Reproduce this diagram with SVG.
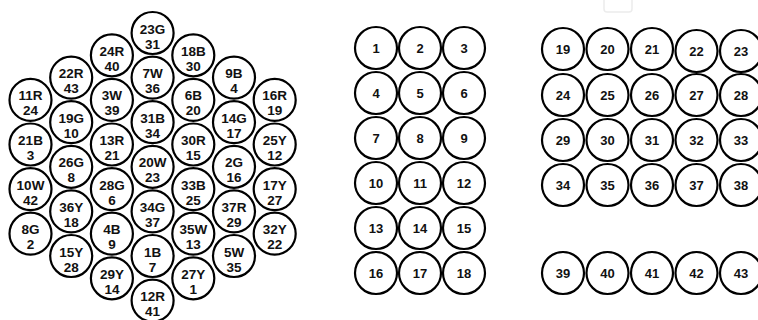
<svg xmlns="http://www.w3.org/2000/svg" width="758" height="320" viewBox="0 0 758 320">
<style>
.c{fill:#fff;stroke:#000;stroke-width:2.2}
.t{font-family:"Liberation Sans",Arial,sans-serif;font-weight:bold;font-size:13.5px;text-anchor:middle;fill:#111}
.n{font-family:"Liberation Sans",Arial,sans-serif;font-weight:bold;font-size:13px;text-anchor:middle;fill:#111}
</style>
<defs>
<circle id="h" r="21" class="c"/>
<circle id="g" r="21" class="c"/>
</defs>
<rect x="604" y="-5" width="28" height="17" rx="3" fill="none" stroke="#ececec" stroke-width="1.5"/>
<g id="connectors"></g>
<g id="hex">
<g id="h-23G"><use href="#h" x="152.6" y="33"/><text class="t" x="152.6" y="33.5">23G</text><text class="t" x="152.6" y="48.5">31</text></g>
<g id="h-7W"><use href="#h" x="152.6" y="77.6"/><text class="t" x="152.6" y="78.1">7W</text><text class="t" x="152.6" y="93.1">36</text></g>
<g id="h-31B"><use href="#h" x="152.6" y="122.2"/><text class="t" x="152.6" y="122.7">31B</text><text class="t" x="152.6" y="137.7">34</text></g>
<g id="h-20W"><use href="#h" x="152.6" y="166.8"/><text class="t" x="152.6" y="167.3">20W</text><text class="t" x="152.6" y="182.3">23</text></g>
<g id="h-34G"><use href="#h" x="152.6" y="211.4"/><text class="t" x="152.6" y="211.9">34G</text><text class="t" x="152.6" y="226.9">37</text></g>
<g id="h-1B"><use href="#h" x="152.6" y="256"/><text class="t" x="152.6" y="256.5">1B</text><text class="t" x="152.6" y="271.5">7</text></g>
<g id="h-12R"><use href="#h" x="152.6" y="300.6"/><text class="t" x="152.6" y="301.1">12R</text><text class="t" x="152.6" y="316.1">41</text></g>

<g id="h-11R"><use href="#h" x="30.5" y="99.9"/><text class="t" x="30.5" y="100.4">11R</text><text class="t" x="30.5" y="115.4">24</text></g>
<g id="h-21B"><use href="#h" x="30.5" y="144.5"/><text class="t" x="30.5" y="145">21B</text><text class="t" x="30.5" y="160">3</text></g>
<g id="h-10W"><use href="#h" x="30.5" y="189.1"/><text class="t" x="30.5" y="189.6">10W</text><text class="t" x="30.5" y="204.6">42</text></g>
<g id="h-8G"><use href="#h" x="30.5" y="233.7"/><text class="t" x="30.5" y="234.2">8G</text><text class="t" x="30.5" y="249.2">2</text></g>

<g id="h-22R"><use href="#h" x="71.2" y="77.6"/><text class="t" x="71.2" y="78.1">22R</text><text class="t" x="71.2" y="93.1">43</text></g>
<g id="h-19G"><use href="#h" x="71.2" y="122.2"/><text class="t" x="71.2" y="122.7">19G</text><text class="t" x="71.2" y="137.7">10</text></g>
<g id="h-26G"><use href="#h" x="71.2" y="166.8"/><text class="t" x="71.2" y="167.3">26G</text><text class="t" x="71.2" y="182.3">8</text></g>
<g id="h-36Y"><use href="#h" x="71.2" y="211.4"/><text class="t" x="71.2" y="211.9">36Y</text><text class="t" x="71.2" y="226.9">18</text></g>
<g id="h-15Y"><use href="#h" x="71.2" y="256"/><text class="t" x="71.2" y="256.5">15Y</text><text class="t" x="71.2" y="271.5">28</text></g>

<g id="h-24R"><use href="#h" x="111.9" y="55.3"/><text class="t" x="111.9" y="55.8">24R</text><text class="t" x="111.9" y="70.8">40</text></g>
<g id="h-3W"><use href="#h" x="111.9" y="99.9"/><text class="t" x="111.9" y="100.4">3W</text><text class="t" x="111.9" y="115.4">39</text></g>
<g id="h-13R"><use href="#h" x="111.9" y="144.5"/><text class="t" x="111.9" y="145">13R</text><text class="t" x="111.9" y="160">21</text></g>
<g id="h-28G"><use href="#h" x="111.9" y="189.1"/><text class="t" x="111.9" y="189.6">28G</text><text class="t" x="111.9" y="204.6">6</text></g>
<g id="h-4B"><use href="#h" x="111.9" y="233.7"/><text class="t" x="111.9" y="234.2">4B</text><text class="t" x="111.9" y="249.2">9</text></g>
<g id="h-29Y"><use href="#h" x="111.9" y="278.3"/><text class="t" x="111.9" y="278.8">29Y</text><text class="t" x="111.9" y="293.8">14</text></g>

<g id="h-18B"><use href="#h" x="193.3" y="55.3"/><text class="t" x="193.3" y="55.8">18B</text><text class="t" x="193.3" y="70.8">30</text></g>
<g id="h-6B"><use href="#h" x="193.3" y="99.9"/><text class="t" x="193.3" y="100.4">6B</text><text class="t" x="193.3" y="115.4">20</text></g>
<g id="h-30R"><use href="#h" x="193.3" y="144.5"/><text class="t" x="193.3" y="145">30R</text><text class="t" x="193.3" y="160">15</text></g>
<g id="h-33B"><use href="#h" x="193.3" y="189.1"/><text class="t" x="193.3" y="189.6">33B</text><text class="t" x="193.3" y="204.6">25</text></g>
<g id="h-35W"><use href="#h" x="193.3" y="233.7"/><text class="t" x="193.3" y="234.2">35W</text><text class="t" x="193.3" y="249.2">13</text></g>
<g id="h-27Y"><use href="#h" x="193.3" y="278.3"/><text class="t" x="193.3" y="278.8">27Y</text><text class="t" x="193.3" y="293.8">1</text></g>

<g id="h-9B"><use href="#h" x="234" y="77.6"/><text class="t" x="234" y="78.1">9B</text><text class="t" x="234" y="93.1">4</text></g>
<g id="h-14G"><use href="#h" x="234" y="122.2"/><text class="t" x="234" y="122.7">14G</text><text class="t" x="234" y="137.7">17</text></g>
<g id="h-2G"><use href="#h" x="234" y="166.8"/><text class="t" x="234" y="167.3">2G</text><text class="t" x="234" y="182.3">16</text></g>
<g id="h-37R"><use href="#h" x="234" y="211.4"/><text class="t" x="234" y="211.9">37R</text><text class="t" x="234" y="226.9">29</text></g>
<g id="h-5W"><use href="#h" x="234" y="256"/><text class="t" x="234" y="256.5">5W</text><text class="t" x="234" y="271.5">35</text></g>

<g id="h-16R"><use href="#h" x="274.7" y="99.9"/><text class="t" x="274.7" y="100.4">16R</text><text class="t" x="274.7" y="115.4">19</text></g>
<g id="h-25Y"><use href="#h" x="274.7" y="144.5"/><text class="t" x="274.7" y="145">25Y</text><text class="t" x="274.7" y="160">12</text></g>
<g id="h-17Y"><use href="#h" x="274.7" y="189.1"/><text class="t" x="274.7" y="189.6">17Y</text><text class="t" x="274.7" y="204.6">27</text></g>
<g id="h-32Y"><use href="#h" x="274.7" y="233.7"/><text class="t" x="274.7" y="234.2">32Y</text><text class="t" x="274.7" y="249.2">22</text></g>
</g>

<g id="gridA">
<g id="n1"><use href="#g" x="376" y="48"/><text class="n" x="376" y="53">1</text></g>
<g id="n2"><use href="#g" x="420" y="48"/><text class="n" x="420" y="53">2</text></g>
<g id="n3"><use href="#g" x="464" y="48"/><text class="n" x="464" y="53">3</text></g>
<g id="n4"><use href="#g" x="376" y="93"/><text class="n" x="376" y="98">4</text></g>
<g id="n5"><use href="#g" x="420" y="93"/><text class="n" x="420" y="98">5</text></g>
<g id="n6"><use href="#g" x="464" y="93"/><text class="n" x="464" y="98">6</text></g>
<g id="n7"><use href="#g" x="376" y="138"/><text class="n" x="376" y="143">7</text></g>
<g id="n8"><use href="#g" x="420" y="138"/><text class="n" x="420" y="143">8</text></g>
<g id="n9"><use href="#g" x="464" y="138"/><text class="n" x="464" y="143">9</text></g>
<g id="n10"><use href="#g" x="376" y="183"/><text class="n" x="376" y="188">10</text></g>
<g id="n11"><use href="#g" x="420" y="183"/><text class="n" x="420" y="188">11</text></g>
<g id="n12"><use href="#g" x="464" y="183"/><text class="n" x="464" y="188">12</text></g>
<g id="n13"><use href="#g" x="376" y="228"/><text class="n" x="376" y="233">13</text></g>
<g id="n14"><use href="#g" x="420" y="228"/><text class="n" x="420" y="233">14</text></g>
<g id="n15"><use href="#g" x="464" y="228"/><text class="n" x="464" y="233">15</text></g>
<g id="n16"><use href="#g" x="376" y="273"/><text class="n" x="376" y="278">16</text></g>
<g id="n17"><use href="#g" x="420" y="273"/><text class="n" x="420" y="278">17</text></g>
<g id="n18"><use href="#g" x="464" y="273"/><text class="n" x="464" y="278">18</text></g>
</g>

<g id="gridB">
<g id="n19"><use href="#g" x="563" y="49"/><text class="n" x="563" y="54">19</text></g>
<g id="n20"><use href="#g" x="607.5" y="49"/><text class="n" x="607.5" y="54">20</text></g>
<g id="n21"><use href="#g" x="652" y="49"/><text class="n" x="652" y="54">21</text></g>
<g id="n22"><use href="#g" x="696.5" y="51"/><text class="n" x="696.5" y="56">22</text></g>
<g id="n23"><use href="#g" x="741" y="51"/><text class="n" x="741" y="56">23</text></g>
<g id="n24"><use href="#g" x="563" y="95"/><text class="n" x="563" y="100">24</text></g>
<g id="n25"><use href="#g" x="607.5" y="95"/><text class="n" x="607.5" y="100">25</text></g>
<g id="n26"><use href="#g" x="652" y="95"/><text class="n" x="652" y="100">26</text></g>
<g id="n27"><use href="#g" x="696.5" y="95"/><text class="n" x="696.5" y="100">27</text></g>
<g id="n28"><use href="#g" x="741" y="95"/><text class="n" x="741" y="100">28</text></g>
<g id="n29"><use href="#g" x="563" y="140"/><text class="n" x="563" y="145">29</text></g>
<g id="n30"><use href="#g" x="607.5" y="140"/><text class="n" x="607.5" y="145">30</text></g>
<g id="n31"><use href="#g" x="652" y="140"/><text class="n" x="652" y="145">31</text></g>
<g id="n32"><use href="#g" x="696.5" y="140"/><text class="n" x="696.5" y="145">32</text></g>
<g id="n33"><use href="#g" x="741" y="140"/><text class="n" x="741" y="145">33</text></g>
<g id="n34"><use href="#g" x="563" y="185"/><text class="n" x="563" y="190">34</text></g>
<g id="n35"><use href="#g" x="607.5" y="185"/><text class="n" x="607.5" y="190">35</text></g>
<g id="n36"><use href="#g" x="652" y="185"/><text class="n" x="652" y="190">36</text></g>
<g id="n37"><use href="#g" x="696.5" y="185"/><text class="n" x="696.5" y="190">37</text></g>
<g id="n38"><use href="#g" x="741" y="185"/><text class="n" x="741" y="190">38</text></g>
<g id="n39"><use href="#g" x="563" y="273"/><text class="n" x="563" y="278">39</text></g>
<g id="n40"><use href="#g" x="607.5" y="273"/><text class="n" x="607.5" y="278">40</text></g>
<g id="n41"><use href="#g" x="652" y="273"/><text class="n" x="652" y="278">41</text></g>
<g id="n42"><use href="#g" x="696.5" y="273"/><text class="n" x="696.5" y="278">42</text></g>
<g id="n43"><use href="#g" x="741" y="273"/><text class="n" x="741" y="278">43</text></g>
</g>
</svg>
